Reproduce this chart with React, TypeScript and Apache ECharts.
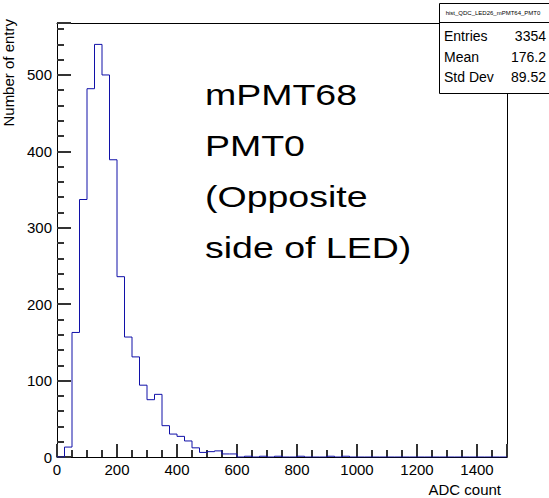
import React, { useEffect, useRef } from "react";
import * as echarts from "echarts";

const binWidth = 25;
const xMin = 0;
const xMax = 1500;
const yMax = 568;
const counts = [
  0, 13, 163, 337, 482, 540, 500, 389, 236, 157,
  131, 94, 75, 82, 41, 30, 27, 21, 12, 6,
  7, 8, 4, 4, 0, 1, 0, 1, 0, 1,
  0, 0, 1, 0, 0, 0, 1, 0, 1, 0,
  0, 0, 0, 0, 0, 0, 0, 0, 0, 0,
  0, 0, 0, 0, 0, 0, 0, 0, 0, 0,
];
const histName = "hist_QDC_LED26_mPMT64_PMT0";
const statLabels = ["Entries", "Mean", "Std Dev"];
const statValues = ["3354", "176.2", "89.52"];
const annotation = ["mPMT68", "PMT0", "(Opposite", "side of LED)"];
const xTitle = "ADC count";
const yTitle = "Number of entry";

const FONT = "'Liberation Sans', Arial, Helvetica, sans-serif";

export default function App() {
  const ref = useRef<HTMLDivElement>(null);
  useEffect(() => {
    if (!ref.current) return;
    const chart = echarts.init(ref.current, undefined, { renderer: "svg" });
    const data: [number, number][] = counts.map((c, i) => [xMin + i * binWidth, c]);
    data.push([xMax, 0]);

    const statRowY = [36, 57, 77];
    const graphics: any[] = [
      {
        type: "rect",
        shape: { x: 439.5, y: 3.5, width: 120, height: 90 },
        style: { fill: "#fff", stroke: "#000", lineWidth: 1 },
        z: 10,
      },
      {
        type: "line",
        shape: { x1: 439.5, y1: 22.5, x2: 549, y2: 22.5 },
        style: { stroke: "#000", lineWidth: 1 },
        z: 11,
      },
      {
        type: "text",
        x: 493,
        y: 13,
        style: {
          text: histName,
          font: `6px ${FONT}`,
          fill: "#000",
          textAlign: "center",
          textVerticalAlign: "middle",
        },
        z: 11,
      },
    ];
    statLabels.forEach((l, i) => {
      graphics.push({
        type: "text",
        x: 444,
        y: statRowY[i],
        style: { text: l, font: `14px ${FONT}`, fill: "#000", textAlign: "left", textVerticalAlign: "middle" },
        z: 11,
      });
      graphics.push({
        type: "text",
        x: 546,
        y: statRowY[i],
        style: { text: statValues[i], font: `14px ${FONT}`, fill: "#000", textAlign: "right", textVerticalAlign: "middle" },
        z: 11,
      });
    });
    graphics.push({
      type: "text",
      x: 205,
      y: 69,
      scaleX: 1.25,
      style: {
        text: annotation.join("\n"),
        font: `30px ${FONT}`,
        lineHeight: 51,
        fill: "#000",
        textAlign: "left",
        textVerticalAlign: "top",
      },
      z: 11,
    });
    graphics.push({
      type: "text",
      x: 501,
      y: 489,
      style: { text: xTitle, font: `15px ${FONT}`, fill: "#000", textAlign: "right", textVerticalAlign: "middle" },
    });
    graphics.push({
      type: "text",
      x: 8,
      y: 19,
      rotation: Math.PI / 2,
      style: { text: yTitle, font: `15px ${FONT}`, fill: "#000", textAlign: "right", textVerticalAlign: "middle" },
    });

    const labelStyle = {
      color: "#000",
      fontSize: 15,
      fontFamily: FONT,
      margin: 5,
      showMaxLabel: false,
      formatter: (v: number) => String(v),
    };
    const frameAxis = {
      type: "value",
      axisLine: { show: true, onZero: false, lineStyle: { color: "#000", width: 1 } },
      axisTick: { show: false },
      axisLabel: { show: false },
      splitLine: { show: false },
    };

    chart.setOption({
      animation: false,
      backgroundColor: "#fff",
      grid: { left: 57, right: 42, top: 23, bottom: 41 },
      xAxis: [
        {
          type: "value",
          position: "bottom",
          min: xMin,
          max: xMax,
          interval: 200,
          axisLine: { show: true, onZero: false, lineStyle: { color: "#000", width: 1 } },
          axisTick: { show: true, inside: true, length: 13, lineStyle: { color: "#333", width: 2 } },
          minorTick: { show: true, splitNumber: 4, length: 7, lineStyle: { color: "#333", width: 2 } },
          splitLine: { show: false },
          axisLabel: { ...labelStyle },
        },
        { ...frameAxis, position: "top", min: xMin, max: xMax },
      ],
      yAxis: [
        {
          type: "value",
          position: "left",
          min: 0,
          max: yMax,
          interval: 100,
          axisLine: { show: true, onZero: false, lineStyle: { color: "#000", width: 1 } },
          axisTick: { show: true, inside: true, length: 14, lineStyle: { color: "#333", width: 2 } },
          minorTick: { show: true, splitNumber: 5, length: 7, lineStyle: { color: "#333", width: 2 } },
          splitLine: { show: false },
          axisLabel: { ...labelStyle },
        },
        { ...frameAxis, position: "right", min: 0, max: yMax },
      ],
      series: [
        {
          type: "line",
          step: "end",
          data,
          symbol: "none",
          lineStyle: { color: "#1010a8", width: 1 },
        },
      ],
      graphic: graphics,
    });
    return () => chart.dispose();
  }, []);
  return (
    <div
      ref={ref}
      style={{ position: "fixed", left: 0, top: 0, width: 549, height: 498, background: "#fff" }}
    />
  );
}
